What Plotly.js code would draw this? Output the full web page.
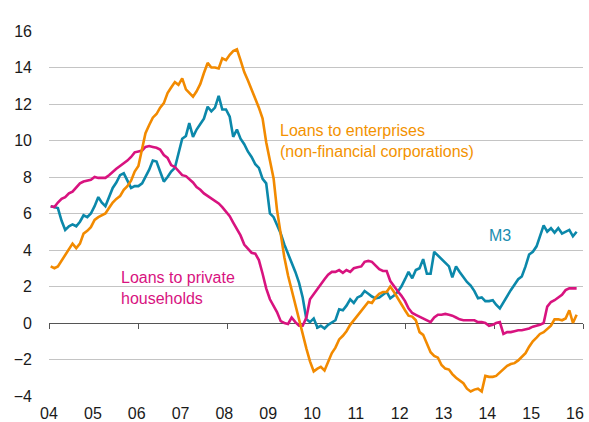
<!DOCTYPE html>
<html>
<head>
<meta charset="utf-8">
<script src="https://cdn.plot.ly/plotly-3.0.1.min.js"></script>
<style>
html,body{margin:0;padding:0;background:#fff;}
#chart{width:589px;height:422px;}
</style>
</head>
<body>
<div id="chart"></div>
<script>
// Monthly observations, January 2004 to January 2016 (annual growth rates, %)
const startYear = 2004;
const m3 = [
  6.4, 6.35, 6.3, 5.6, 5.1, 5.3, 5.4, 5.3, 5.55, 5.9, 5.8, 6.0,
  6.4, 6.9, 6.6, 6.4, 6.85, 7.4, 7.7, 8.1, 8.2, 7.8, 7.4, 7.5,
  7.5, 7.65, 8.0, 8.4, 8.9, 8.85, 8.3, 7.75, 8.0, 8.3, 8.5, 9.3,
  10.1, 10.25, 10.95, 10.2, 10.6, 10.9, 11.2, 11.85, 11.6, 11.8, 12.45, 11.7,
  11.7, 11.3, 10.2, 10.6, 10.1, 9.8, 9.4, 9.1, 8.7, 8.5, 7.9, 7.65,
  6.0, 5.8, 5.4, 4.9, 4.3, 3.8, 3.4, 2.8, 2.2, 1.4, 0.2, 0.05,
  0.25, -0.25, -0.15, -0.3, -0.1, 0.05, 0.15, 0.75, 0.7, 0.95, 1.3, 1.1,
  1.4, 1.5, 1.75, 1.6, 1.45, 1.35, 1.4, 1.55, 1.7, 1.35, 1.5, 1.7,
  2.0, 2.4, 2.8, 2.45, 2.9, 3.0, 3.5, 2.7, 2.7, 3.9, 3.7, 3.5,
  3.3, 3.1, 2.5, 3.1, 2.8, 2.5, 2.25, 2.05, 1.75, 1.35, 1.4, 1.2,
  1.2, 1.25, 1.0, 0.8, 1.15, 1.5, 1.8, 2.1, 2.4, 2.55, 3.1, 3.75,
  3.9, 4.2, 4.7, 5.35, 5.0, 5.2, 4.95, 5.2, 4.9, 5.0, 5.1, 4.75,
  5.0
];
const enterprises = [
  3.1, 3.0, 3.1, 3.4, 3.75, 4.05, 4.35, 4.1, 4.35, 4.9, 5.05, 5.25,
  5.65, 5.8, 5.9, 6.0, 6.3, 6.6, 6.8, 6.95, 7.3, 7.5, 7.8, 8.3,
  8.6, 9.6, 10.4, 10.85, 11.25, 11.45, 11.8, 12.05, 12.6, 12.9, 13.2, 13.05,
  13.4, 12.8, 12.6, 12.4, 12.7, 13.1, 13.7, 14.25, 14.0, 14.0, 13.95, 14.5,
  14.4, 14.7, 14.9, 15.0, 14.4, 13.75, 13.3, 12.8, 12.3, 11.8, 11.2, 9.9,
  8.9, 7.9, 6.2, 4.8, 3.6, 2.6, 1.8, 1.1, 0.3, -0.5, -1.4, -2.1,
  -2.65, -2.5, -2.4, -2.6, -2.1, -1.65, -1.35, -0.9, -0.7, -0.45, -0.1, 0.15,
  0.4, 0.65, 0.9, 1.15, 1.1, 1.4, 1.6, 1.7, 1.7, 2.0, 1.7, 1.35,
  1.0, 0.7, 0.4, 0.35, 0.15, -0.5, -0.65, -1.1, -1.6, -1.8, -1.9, -2.3,
  -2.5, -2.55, -2.8, -3.0, -3.15, -3.3, -3.6, -3.75, -3.65, -3.6, -3.75, -2.9,
  -2.95, -2.95, -2.9, -2.7, -2.5, -2.35, -2.25, -2.2, -2.05, -1.85, -1.65, -1.3,
  -1.0, -0.8, -0.6, -0.5, -0.3, -0.15, 0.2, 0.2, 0.15, 0.25, 0.7, 0.0,
  0.45
];
const households = [
  6.4, 6.35, 6.6, 6.8, 6.9, 7.1, 7.2, 7.4, 7.65, 7.75, 7.8, 7.85,
  8.0, 7.95, 7.95, 7.95, 8.1, 8.3, 8.45, 8.6, 8.75, 8.9, 9.1, 9.35,
  9.4, 9.45, 9.65, 9.7, 9.65, 9.6, 9.5, 9.2, 9.05, 8.65, 8.55, 8.35,
  8.1, 8.05, 7.9, 7.7, 7.45, 7.3, 7.1, 6.95, 6.85, 6.7, 6.55, 6.35,
  6.1, 5.85, 5.5, 5.15, 4.8, 4.3, 4.05, 3.85, 3.8, 3.45, 2.7, 1.9,
  1.3, 0.95, 0.6, 0.1, 0.0, -0.05, 0.3, 0.05, -0.15, -0.15, 0.3, 1.3,
  1.6, 1.9, 2.15, 2.4, 2.65, 2.8, 2.8, 2.9, 2.75, 2.9, 2.8, 3.0,
  3.05, 3.1, 3.35, 3.4, 3.35, 3.15, 2.95, 2.85, 2.85, 2.3, 2.0, 1.75,
  1.5, 1.2, 0.8, 0.55, 0.45, 0.35, 0.25, 0.15, 0.05, 0.3, 0.45, 0.45,
  0.5, 0.45, 0.4, 0.3, 0.2, 0.15, 0.15, 0.15, 0.15, 0.05, 0.05, 0.0,
  -0.15, -0.1, 0.0, 0.05, -0.6, -0.5, -0.5, -0.45, -0.4, -0.4, -0.35, -0.3,
  -0.2, -0.15, -0.1, 0.0, 0.9, 1.15, 1.25, 1.4, 1.55, 1.8, 1.9, 1.9,
  1.9
];
const tickYears = [2004, 2005, 2006, 2007, 2008, 2009, 2010, 2011, 2012, 2013, 2014, 2015, 2016];
const tickLabels = ['04', '05', '06', '07', '08', '09', '10', '11', '12', '13', '14', '15', '16'];
const zeroTickYears = [2004, 2006, 2008, 2010, 2012, 2014, 2016];
const labelM3 = 'M3';
const labelEnterprises = 'Loans to enterprises<br>(non-financial corporations)';
const labelHouseholds = 'Loans to private<br>households';

// month dates (mid-month)
const months = m3.map((_, i) => {
  const y = startYear + Math.floor(i / 12);
  const mo = (i % 12) + 1;
  return y + '-' + String(mo).padStart(2, '0') + '-15';
});
const yr = y => y + '-01-01';

const C_M3 = '#0b88aa';
const C_ENT = '#f28a00';
const C_HH = '#d8137f';

const traces = [
  {x: months, y: m3, type: 'scatter', mode: 'lines', line: {color: C_M3, width: 2.6}, hoverinfo: 'skip'},
  {x: months, y: households, type: 'scatter', mode: 'lines', line: {color: C_HH, width: 2.6}, hoverinfo: 'skip'},
  {x: months, y: enterprises, type: 'scatter', mode: 'lines', line: {color: C_ENT, width: 2.6}, hoverinfo: 'skip'},
  {x: [yr(2004), yr(2016)], y: [null, null], xaxis: 'x2', yaxis: 'y', type: 'scatter', mode: 'lines', hoverinfo: 'skip', showlegend: false}
];

const font = {family: '"Liberation Sans", Arial, sans-serif', size: 16, color: '#1a1a1a'};

const layout = {
  width: 589, height: 422,
  margin: {l: 49, r: 6, t: 31, b: 26, pad: 0},
  paper_bgcolor: '#ffffff', plot_bgcolor: '#ffffff',
  showlegend: false,
  font: font,
  xaxis: {
    type: 'date',
    range: ['2004-01-01', '2016-03-08'],
    tickmode: 'array', tickvals: tickYears.map(yr), ticktext: tickLabels,
    ticks: '', showgrid: false, zeroline: false, showline: false,
    tickfont: font, ticklabelstandoff: 6
  },
  xaxis2: {
    type: 'date', overlaying: 'x', anchor: 'free', position: 0.2,
    domain: [0, 0.985],
    range: [yr(2004), yr(2016)],
    tickmode: 'array', tickvals: zeroTickYears.map(yr),
    ticks: 'outside', ticklen: 5, tickwidth: 1, tickcolor: '#555555',
    showticklabels: false, showgrid: false, zeroline: false,
    showline: true, linecolor: '#555555', linewidth: 1,
    layer: 'below traces'
  },
  yaxis: {
    range: [-4, 16], tickmode: 'linear', tick0: -4, dtick: 2,
    showgrid: true, gridcolor: '#c4c4c4', gridwidth: 1,
    zeroline: false, showline: false, ticks: '',
    tickfont: font, ticklabelstandoff: 16
  },
  annotations: [
    {xref: 'x', yref: 'y', x: '2009-03-25', y: 10.0, xanchor: 'left', yanchor: 'middle', align: 'left',
     text: labelEnterprises, showarrow: false, font: {family: font.family, size: 16, color: '#f39200'}},
    {xref: 'x', yref: 'y', x: '2005-08-05', y: 1.93, xanchor: 'left', yanchor: 'middle', align: 'left',
     text: labelHouseholds, showarrow: false, font: {family: font.family, size: 16, color: C_HH}},
    {xref: 'x', yref: 'y', x: '2013-12-28', y: 4.82, xanchor: 'left', yanchor: 'middle', align: 'left',
     text: labelM3, showarrow: false, font: {family: font.family, size: 16, color: '#1a8db0'}}
  ]
};

Plotly.newPlot('chart', traces, layout, {staticPlot: true, displayModeBar: false});
</script>
</body>
</html>
